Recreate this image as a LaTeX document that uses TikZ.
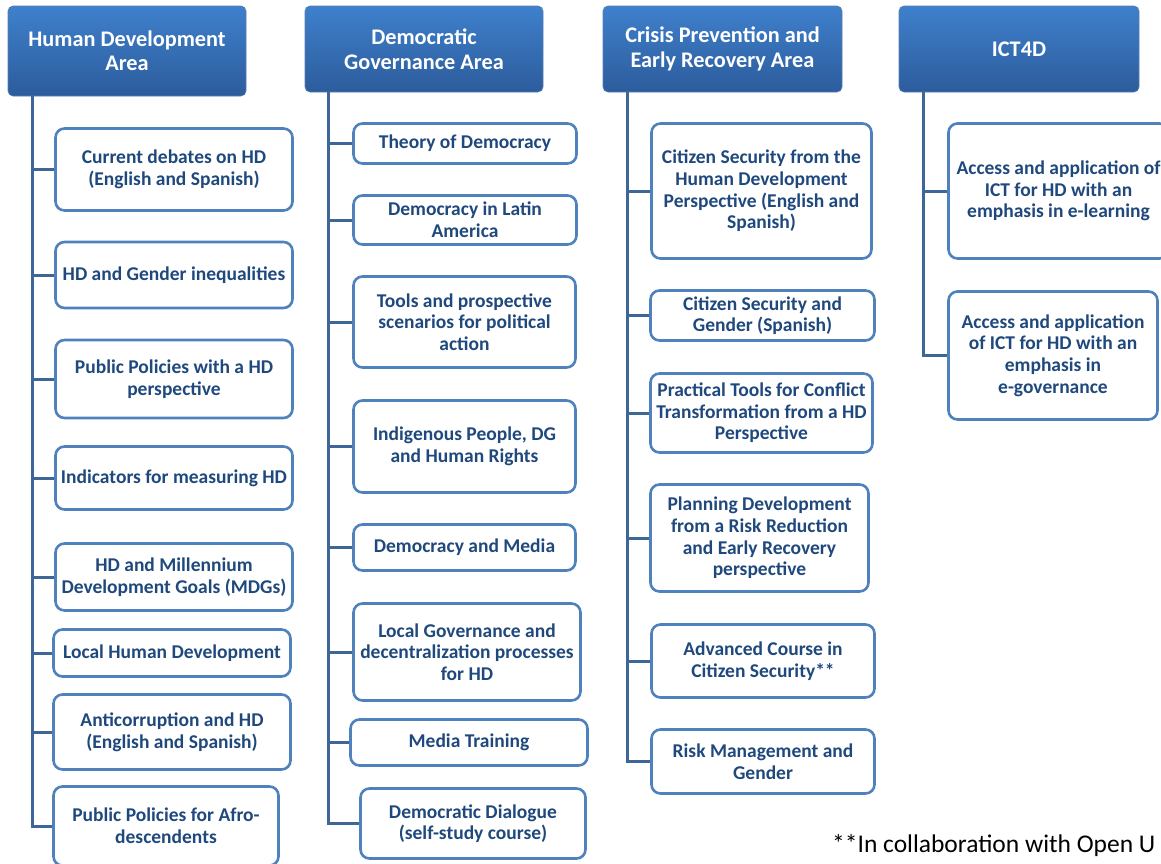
\documentclass[tikz,border=0pt]{standalone}
\usepackage{fontspec}
\setmainfont{Carlito}
\definecolor{boxblue}{HTML}{4F81BD}
\definecolor{txtblue}{HTML}{1F497D}
\definecolor{trunkblue}{HTML}{3D6699}
\definecolor{hdtop}{HTML}{3F80CC}
\definecolor{hdbot}{HTML}{2C5C9C}
\tikzset{
  child/.style={draw=boxblue, line width=2.6pt, rounded corners=9pt, fill=white,
    text=txtblue, font=\bfseries\fontsize{19.5}{21.6}\selectfont, align=center, inner sep=0pt},
  header/.style={rounded corners=5pt, top color=hdtop, bottom color=hdbot, draw=hdbot!80, line width=0.6pt,
    text=white, font=\bfseries\fontsize{22.3}{24.5}\selectfont, align=center, inner sep=0pt},
  trunk/.style={draw=trunkblue, line width=3pt},
  note/.style={font=\fontsize{25.5}{28}\selectfont, text=black, inner sep=0pt, anchor=west}
}
\begin{document}
\begin{tikzpicture}[x=1pt,y=-1pt]
\useasboundingbox (0,0) rectangle (1161,863);
% headers
\node[header, minimum width=238pt, minimum height=90pt] (h1) at (127,51) {Human Development\\Area};
\node[header, minimum width=238pt, minimum height=86pt] (h2) at (424,49) {Democratic\\Governance Area};
\node[header, minimum width=239pt, minimum height=86pt] (h3) at (722.5,49) {Crisis Prevention and\\Early Recovery Area};
\node[header, minimum width=240pt, minimum height=86pt] (h4) at (1019,49) {ICT4D};
\coordinate (t1) at (32,96);
\coordinate (t2) at (328,92);
\coordinate (t3) at (627,92);
\coordinate (t4) at (923,92);
% column 1
\node[child, minimum width=237pt, minimum height=82pt] (c1) at (174,169.5) {Current debates on HD\\(English and Spanish)};
\node[child, minimum width=237pt, minimum height=66pt] (c2) at (174,275) {HD and Gender inequalities};
\node[child, minimum width=237pt, minimum height=78pt] (c3) at (174,379) {Public Policies with a HD\\perspective};
\node[child, minimum width=237pt, minimum height=63pt] (c4) at (174,478) {Indicators for measuring HD};
\node[child, minimum width=237pt, minimum height=67pt] (c5) at (174,577) {HD and Millennium\\Development Goals (MDGs)};
\node[child, minimum width=237pt, minimum height=47pt] (c6) at (172,653) {Local Human Development};
\node[child, minimum width=237pt, minimum height=75pt] (c7) at (172,732) {Anticorruption and HD\\(English and Spanish)};
\node[child, minimum width=225pt, minimum height=79pt] (c8) at (166,826) {Public Policies for Afro-\\descendents};
% column 2
\node[child, minimum width=223pt, minimum height=40pt] (d1) at (465,143.5) {Theory of Democracy};
\node[child, minimum width=223pt, minimum height=49pt] (d2) at (465,220) {Democracy in Latin\\America};
\node[child, minimum width=222pt, minimum height=91pt] (d3) at (464.5,322) {Tools and prospective\\scenarios for political\\action};
\node[child, minimum width=222pt, minimum height=92pt] (d4) at (464.5,446.5) {Indigenous People, DG\\and Human Rights};
\node[child, minimum width=222pt, minimum height=46pt] (d5) at (464.5,547.5) {Democracy and Media};
\node[child, minimum width=227pt, minimum height=97pt] (d6) at (467,652) {Local Governance and\\decentralization processes\\for HD};
\node[child, minimum width=237pt, minimum height=46pt] (d7) at (469,742.5) {Media Training};
\node[child, minimum width=225pt, minimum height=70pt] (d8) at (473,823.5) {Democratic Dialogue\\(self-study course)};
% column 3
\node[child, minimum width=220pt, minimum height=135pt] (e1) at (761.5,191) {Citizen Security from the\\Human Development\\Perspective (English and\\Spanish)};
\node[child, minimum width=224pt, minimum height=50pt] (e2) at (762.5,315.5) {Citizen Security and\\Gender (Spanish)};
\node[child, minimum width=222pt, minimum height=79pt] (e3) at (761.5,413) {Practical Tools for Conflict\\Transformation from a HD\\Perspective};
\node[child, minimum width=218pt, minimum height=107pt] (e4) at (759.5,538) {Planning Development\\from a Risk Reduction\\and Early Recovery\\perspective};
\node[child, minimum width=223pt, minimum height=73pt] (e5) at (763,661) {Advanced Course in\\Citizen Security**};
\node[child, minimum width=223pt, minimum height=64pt] (e6) at (763,761.5) {Risk Management and\\Gender};
% column 4
\node[child, minimum width=220pt, minimum height=135pt] (f1) at (1058.5,191) {Access and application of\\ICT for HD with an\\emphasis in e-learning};
\node[child, minimum width=209pt, minimum height=128pt] (f2) at (1053,355.5) {Access and application\\of ICT for HD with an\\emphasis in\\e-governance};
% connectors
\foreach \n in {c1,c2,c3,c4,c5,c6,c7,c8} \draw[trunk] (t1) |- (\n.west);
\foreach \n in {d1,d2,d3,d4,d5,d6,d7,d8} \draw[trunk] (t2) |- (\n.west);
\foreach \n in {e1,e2,e3,e4,e5,e6} \draw[trunk] (t3) |- (\n.west);
\foreach \n in {f1,f2} \draw[trunk] (t4) |- (\n.west);
% footnote
\node[note] (fn) at (832,845) {**In collaboration with Open U};
\end{tikzpicture}
\end{document}
